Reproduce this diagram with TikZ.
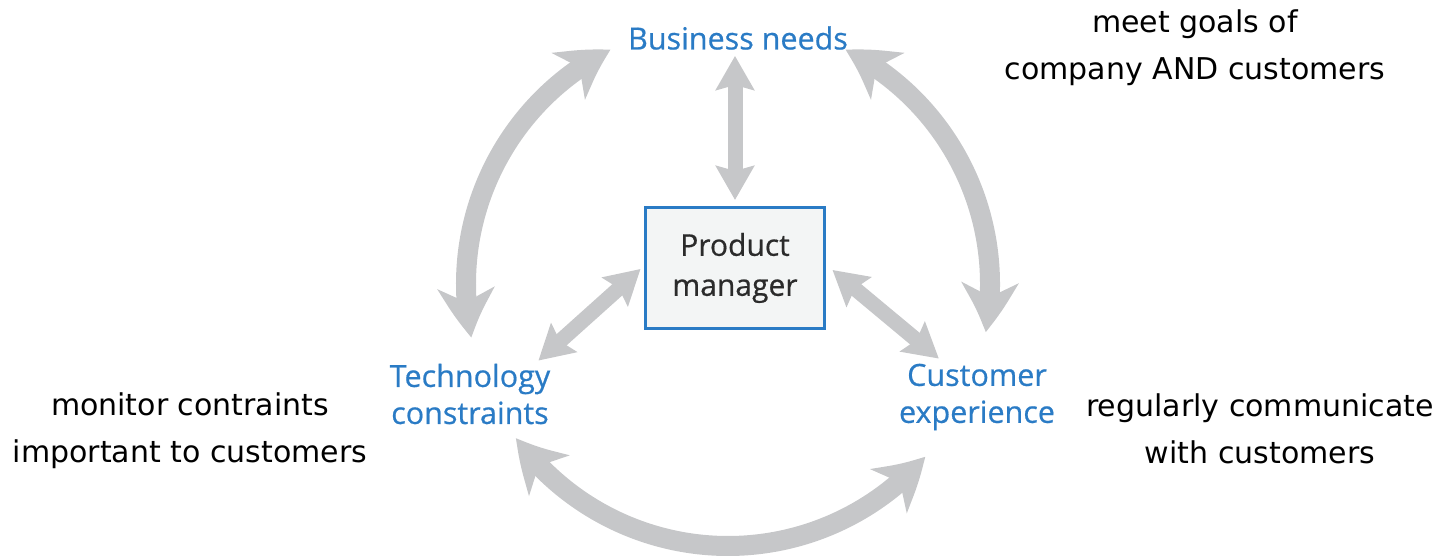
\documentclass[tikz,border=0pt]{standalone}
\usepackage{fontspec}
\setmainfont{DejaVu Sans}
\newfontfamily\labelfont[FakeBold=0.6]{Open Sans}
\usetikzlibrary{arrows.meta,bending}
\definecolor{arrowgray}{HTML}{C6C7C9}
\definecolor{labelblue}{HTML}{2A7BC5}
\definecolor{boxfill}{HTML}{F3F5F5}
\definecolor{textdark}{HTML}{2B2B2B}

\begin{document}
\begin{tikzpicture}[x=1pt,y=1pt]
      \tikzstyle{every node}+=[inner sep=0pt]
      \tikzstyle{topic}=[text=labelblue, font=\labelfont\fontsize{30.5}{37}\selectfont, align=center]
      \tikzstyle{pmbox}=[draw=labelblue, line width=3pt, fill=boxfill, text=textdark, minimum width=179pt, minimum height=121pt, font=\labelfont\fontsize{30}{40}\selectfont, align=center]
      \tikzstyle{note}=[font=\fontsize{30}{47}\selectfont, align=center]
      \tikzstyle{bigarrow}=[arrowgray, line width=20pt, {Stealth[length=50pt,width=56pt,inset=14pt,bend]}-{Stealth[length=50pt,width=56pt,inset=14pt,bend]}]
      \tikzstyle{smallarrow}=[arrowgray, line width=15pt, {Stealth[length=34pt,width=38pt,inset=5pt]}-{Stealth[length=34pt,width=38pt,inset=5pt]}]
      \useasboundingbox (0,0) rectangle (1444,559);
      % centre of the ring
      \coordinate (c) at (728,275);
      % nodes
      \node [topic] (bn) at (738,521) {Business needs};
      \node [pmbox] (pm) at (735,291) {Product\\manager};
      \node [topic] (tc) at (470,165) {Technology\\constraints};
      \node [topic] (ce) at (977,162) {Customer\\experience};
      \node [note] (goals) at (1195,511) {meet goals of\\company AND customers};
      \node [note] (monitor) at (190,128) {monitor contraints\\important to customers};
      \node [note] (talk) at (1260,130) {regularly communicate\\with customers};
      % spokes
      \draw [smallarrow] (pm.north |- bn.south) ++(0,-6) -- ([yshift=6pt]pm.north);
      \draw [smallarrow] ([xshift=-3.5pt,yshift=-1pt]pm.west) -- ([shift={(-12,3)}]tc.north east);
      \draw [smallarrow] ([xshift=6.5pt,yshift=-2pt]pm.east) -- ([shift={(40,5)}]ce.north west);
      % ring
      \draw [bigarrow] ([shift={(116.6:262)}]c) arc [start angle=116.6, end angle=191.8, radius=262];
      \draw [bigarrow] ([shift={(216:262)}]c) arc [start angle=216, end angle=318.8, radius=262];
      \draw [bigarrow] ([shift={(349.4:262)}]c) arc [start angle=349.4, end angle=423.4, radius=262];
\end{tikzpicture}
\end{document}
